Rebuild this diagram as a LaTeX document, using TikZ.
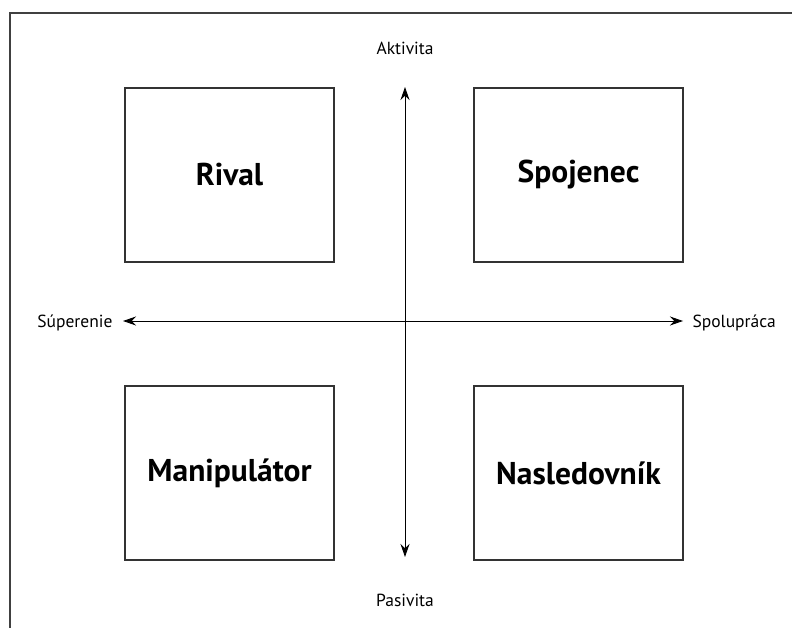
\documentclass[tikz,border=0pt]{standalone}
\usepackage{fontspec}
\setmainfont{PT Sans}
\usetikzlibrary{arrows.meta}
\begin{document}
\begin{tikzpicture}[x=1pt,y=-1pt,
  quad/.style={draw=black!80,line width=1.2pt,minimum width=209pt,minimum height=174pt,inner sep=0pt,
    font=\fontsize{31.5}{38}\selectfont\bfseries},
  axislabel/.style={font=\fontsize{17.5}{21}\selectfont},
  axis/.style={line width=0.9pt,{Stealth[length=13pt,width=9pt]}-{Stealth[length=13pt,width=9pt]}}]
\useasboundingbox (0,0) rectangle (792,628);
% outer frame (only left and top edges fall inside the page)
\draw[black!75,line width=1.2pt] (10,628) -- (10,13) -- (792,13);
% the four quadrant boxes
\node[quad] (rival) at (229.5,175) {Rival};
\node[quad] (ally) at (578.5,175) {Spojenec};
\node[quad] (manip) at (229.5,473) {Manipulátor};
\node[quad] (follow) at (578.5,473) {Nasledovník};
% axis end points and labels
\coordinate (top) at (405,87);
\coordinate (bottom) at (405,557);
\coordinate (left) at (123,321);
\coordinate (right) at (683,321);
\node[axislabel] (act) at (405,48) {Aktivita};
\node[axislabel] (pas) at (405,600) {Pasivita};
\node[axislabel,anchor=east] (comp) at (116,323) {Súperenie};
\node[axislabel,anchor=west] (coop) at (689,323) {Spolupráca};
\draw[axis] (top) -- (bottom);
\draw[axis] (left) -- (right);
\end{tikzpicture}
\end{document}
